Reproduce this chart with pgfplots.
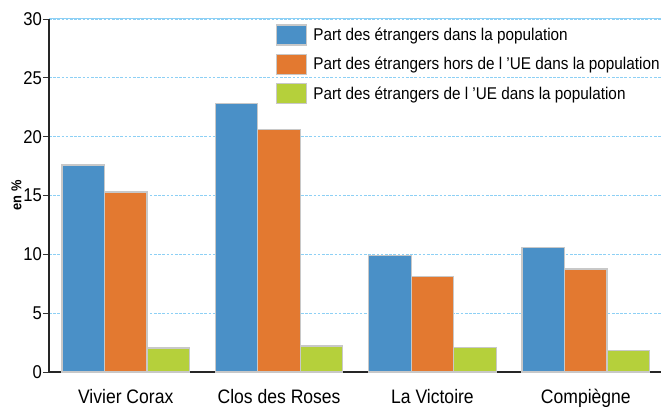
\documentclass[border=0pt]{standalone}
\usepackage{fontspec}
\setmainfont{Liberation Sans}[FakeStretch=0.9]
\usepackage{pgfplots}
\pgfplotsset{compat=1.18}

\definecolor{barblue}{HTML}{4A90C7}
\definecolor{barorange}{HTML}{E37930}
\definecolor{bargreen}{HTML}{B5D03B}
\definecolor{barborder}{HTML}{C8C8C8}
\definecolor{gridblue}{HTML}{8DD0F5}

\begin{document}
\begin{tikzpicture}
\begin{axis}[
  scale only axis,
  width=612bp, height=353bp,
  xmin=-0.5, xmax=3.49,
  ymin=0, ymax=30,
  ybar=0pt, bar width=42.5bp,
  xtick=data,
  xticklabels={Vivier Corax, Clos des Roses, La Victoire, Compiègne},
  x tick label style={font=\fontsize{19.5bp}{22bp}\selectfont, yshift=-8bp},
  major x tick style={draw=none},
  ytick={0,5,...,30},
  y tick label style={font=\fontsize{18.5bp}{22bp}\selectfont, xshift=2.5bp},
  /pgf/number format/assume math mode=true,
  tick align=outside, major tick length=6bp,
  ytick style={black!80, line width=0.9bp},
  axis x line*=bottom, axis y line*=left,
  axis line style={-, black!85, line width=1.2bp},
  ymajorgrids,
  grid style={dash pattern=on 2.7bp off 1.5bp, gridblue, line width=0.8bp},
  ylabel={\bfseries en \%},
  ylabel style={font=\fontsize{14.3bp}{17bp}\selectfont, yshift=-5bp},
  every axis plot/.append style={draw=barborder, line width=1.3bp},
  legend image code/.code={\draw[#1, draw=barborder, line width=1.3bp] (0bp,-10bp) rectangle (30bp,10bp);},
  legend style={at={(0.37,0.985)}, anchor=north west, draw=none, fill=none,
    font=\fontsize{17bp}{20bp}\selectfont, row sep=8bp, inner sep=0pt,
    nodes={inner sep=1.5bp, anchor=west},
    /tikz/every odd column/.style={column sep=5bp}},
  legend cell align=left,
  clip=false,
]
\addplot[fill=barblue] coordinates {(0,17.6) (1,22.8) (2,9.9) (3,10.6)};
\addlegendentry{Part des étrangers dans la population}
\addplot[fill=barorange] coordinates {(0,15.3) (1,20.6) (2,8.1) (3,8.75)};
\addlegendentry{Part des étrangers hors de l ’UE dans la population}
\addplot[fill=bargreen] coordinates {(0,2.05) (1,2.2) (2,2.1) (3,1.8)};
\addlegendentry{Part des étrangers de l ’UE dans la population}
\draw[gridblue, line width=1bp] (rel axis cs:0,1) -- (rel axis cs:1,1);
\path (rel axis cs:0,0) ++(-49bp,-45bp) coordinate (bbA);
\path (rel axis cs:1,1) ++(2bp,19bp) coordinate (bbB);
\end{axis}
\end{tikzpicture}
\end{document}
